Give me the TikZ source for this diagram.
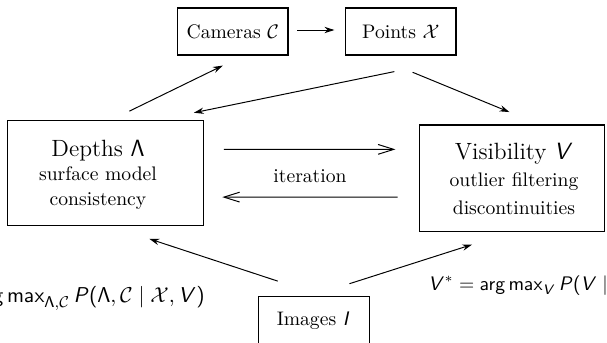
\documentclass[tikz,border=0pt]{standalone}
\usetikzlibrary{calc,arrows.meta}
\DeclareMathAlphabet{\mathsfsl}{OT1}{cmss}{m}{sl}
\DeclareSymbolFont{sfops}{OT1}{cmss}{m}{n}
\DeclareMathSymbol{\sflp}{\mathopen}{sfops}{"28}
\DeclareMathSymbol{\sfrp}{\mathclose}{sfops}{"29}
\DeclareMathSymbol{\sfeq}{\mathrel}{sfops}{"3D}
\newcommand{\sfLambda}{\mathsf{\Lambda}}
\newcommand{\sfargmax}{\mathop{\mathsf{arg\,max}}\nolimits}
\tikzset{
  box/.style={draw, line width=0.6pt, inner sep=0pt},
  lbl/.style={inner sep=0pt, align=center},
  arr/.style={line width=0.5pt, -{Stealth[length=5pt,width=3.2pt]}},
  iter/.style={line width=0.5pt, -{Straight Barb[length=8pt,width=5pt]}},
  formula/.style={inner sep=0pt, font=\fontsize{10.8}{13}\selectfont},
}
\begin{document}
\begin{tikzpicture}[x=0.51pt,y=-0.51pt]
\useasboundingbox (0,0) rectangle (607,342);
\clip (0,0) rectangle (607,342);
% boxes
\node[box, minimum width=110.7*0.51pt, minimum height=47*0.51pt] (cam) at (232.7,31.5) {Cameras $\mathcal{C}$};
\node[box, minimum width=110.3*0.51pt, minimum height=47*0.51pt] (pts) at (400.8,31.5) {Points $\mathcal{X}$};
\node[box, minimum width=196*0.51pt, minimum height=105*0.51pt] (dep) at (105.3,173.2) {};
\node[lbl] (deptext) at (98,174.5) {{\large Depths $\sfLambda$}\\[0.5pt] surface model\\[0.5pt] consistency};
\node[box, minimum width=184.8*0.51pt, minimum height=106.5*0.51pt] (vis) at (511.9,178.2) {};
\node[lbl] (vistext) at (514,178.8) {{\large Visibility $\mathsfsl{V}$}\\[1.5pt] outlier filtering\\[2.3pt] discontinuities};
\node[box, minimum width=111*0.51pt, minimum height=47*0.51pt] (img) at (313.8,320.2) {Images $\mathsfsl{I}$};
% arrows
\draw[arr] ($(cam.east)+(8.7,-1.5)$) -- ($(pts.west)+(-10.7,-1.5)$);
\draw[arr] ($(dep.north west)+(122.7,-9)$) -- ($(cam.south west)+(46,10)$);
\draw[arr] ($(pts.south west)+(49.3,16)$) -- ($(dep.north east)+(-10,-7.4)$);
\draw[arr] ($(pts.south west)+(67.6,16.7)$) -- ($(vis.north west)+(90.5,-12.3)$);
\draw[iter] ($(dep.north east)+(20,29.3)$) -- ($(vis.north west)+(-23.5,25)$);
\draw[iter] ($(vis.north west)+(-21.2,72.7)$) -- ($(dep.north east)+(18.4,77)$);
\node[lbl] (iterlbl) at (310,176) {iteration};
\draw[arr] ($(img.north west)+(20,-15)$) -- ($(dep.south west)+(142.7,12.6)$);
\draw[arr] ($(img.north west)+(91.7,-12.4)$) -- ($(vis.south west)+(53.2,12.5)$);
% formulas
\node[formula, anchor=base east] (fdep) at (205,302) {$\sfargmax_{\sfLambda,\mathcal{C}} \mathsfsl{P}\sflp\sfLambda,\mathcal{C}\mid\mathcal{X},\mathsfsl{V}\sfrp$};
\node[formula, font=\normalsize, anchor=base west] (fvis) at (428,290) {$\mathsfsl{V}^* \sfeq \sfargmax_{\mathsfsl{V}} \mathsfsl{P}\sflp\mathsfsl{V} \mid$};
\end{tikzpicture}
\end{document}
